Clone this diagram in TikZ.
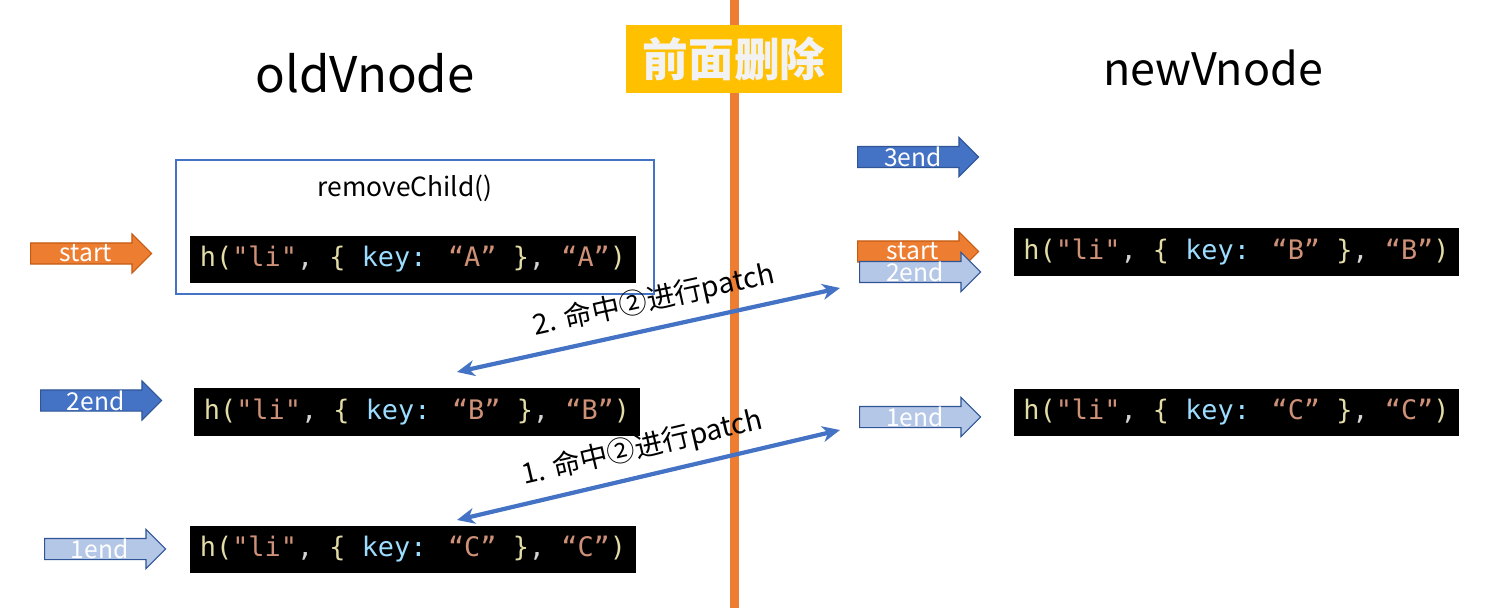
\documentclass[tikz,border=0pt]{standalone}
\usepackage{fontspec}
\usepackage{xcolor}
\usetikzlibrary{shapes.arrows, arrows.meta}
\newfontfamily\cjk{Noto Sans CJK SC}
\newfontfamily\codefont{DejaVu Sans Mono}
\definecolor{accent}{HTML}{ED7D31}
\definecolor{accentdk}{HTML}{C55A11}
\definecolor{gold}{HTML}{FFC000}
\definecolor{primary}{HTML}{4472C4}
\definecolor{primarydk}{HTML}{2F5597}
\definecolor{pale}{HTML}{B4C7E7}
\definecolor{codefn}{HTML}{E2DCA6}
\definecolor{codestr}{HTML}{CE9178}
\definecolor{codekey}{HTML}{9CDCFE}
\definecolor{codepun}{HTML}{D4D4D4}

\newcommand{\vcode}[1]{\textcolor{codefn}{h(}\textcolor{codestr}{"li"}\textcolor{codepun}{, }\textcolor{codefn}{\{} \textcolor{codekey}{key:} \textcolor{codestr}{“#1”} \textcolor{codefn}{\}}\textcolor{codepun}{, }\textcolor{codestr}{“#1”}\textcolor{codefn}{)}}

\begin{document}
\begin{tikzpicture}[
  x=0.02cm, y=-0.02cm,
  heading/.style={font=\cjk\fontsize{28}{32}\selectfont},
  code/.style={fill=black, minimum width=8.92cm, minimum height=0.95cm, inner sep=0pt, font=\codefont\fontsize{15.3}{18}\selectfont},
  blockarr/.style={single arrow, anchor=west, single arrow head extend=0.18cm, single arrow head indent=0pt, minimum height=2.42cm, inner sep=0pt, text height=0.2cm, text depth=0.2cm, line width=0.6pt},
  startarr/.style={blockarr, fill=accent, draw=accentdk},
  darkarr/.style={blockarr, fill=primary, draw=primarydk},
  palearr/.style={blockarr, fill=pale, draw=primarydk},
  arrtxt/.style={text=white, font=\cjk\fontsize{14}{16}\selectfont},
  patcharr/.style={{Stealth[length=10pt, width=9pt, inset=3pt]}-{Stealth[length=10pt, width=9pt, inset=3pt]}, primary, line width=2.4pt},
  patchlbl/.style={sloped, above, text=black, inner sep=6pt, font=\cjk\fontsize{16}{19}\selectfont},
]
\useasboundingbox (0,0) rectangle (1501,608);

% divider and title
\draw[accent, line width=0.18cm] (734,0) -- (734,608);
\node[fill=gold, minimum width=4.32cm, minimum height=1.36cm, text=white!95!black, font=\cjk\bfseries\fontsize{26}{29}\selectfont] (title) at (734,59) {前面删除};

\node[heading] (oldhead) at (365,73) {oldVnode};
\node[heading, font=\cjk\fontsize{25.5}{30}\selectfont] (newhead) at (1213,68) {newVnode};

% old children
\node[draw=primary, line width=0.8pt, minimum width=9.56cm, minimum height=2.68cm] (rmbox) at (415,227) {};
\node[font=\cjk\fontsize{15}{18}\selectfont] (rmlbl) at (405,188) {removeChild()};
\node[code] (oldA) at (413,259.5) {\vcode{A}};
\node[code] (oldB) at (417,412) {\vcode{B}};
\node[code] (oldC) at (413,549.5) {\vcode{C}};

% new children
\node[code] (newB) at (1236.5,252) {\vcode{B}};
\node[code] (newC) at (1236.5,412.5) {\vcode{C}};

% pointers
\node[startarr, label={[arrtxt]center:start}] (oldstart) at (30,253.5) {};
\node[darkarr, label={[arrtxt]center:2end}] (old2end) at (40,400.5) {};
\node[palearr, label={[arrtxt]center:1end}] (old1end) at (44,549) {};
\node[darkarr, label={[arrtxt]center:3end}] (new3end) at (857,157) {};
\node[startarr, label={[arrtxt]center:start}] (newstart) at (857,251.5) {};
\node[palearr, label={[arrtxt]center:2end}] (new2end) at (859,272) {};
\node[palearr, label={[arrtxt]center:1end}] (new1end) at (859,417) {};

% patch links
\coordinate (p2l) at (457,372);
\coordinate (p2r) at (840,288);
\coordinate (p1l) at (457,520);
\coordinate (p1r) at (840,430);
\draw[patcharr] (p2l) -- node[patchlbl, pos=0.53] {2. 命中②进行patch} (p2r);
\draw[patcharr] (p1l) -- node[patchlbl, pos=0.5] {1. 命中②进行patch} (p1r);

\end{tikzpicture}
\end{document}
